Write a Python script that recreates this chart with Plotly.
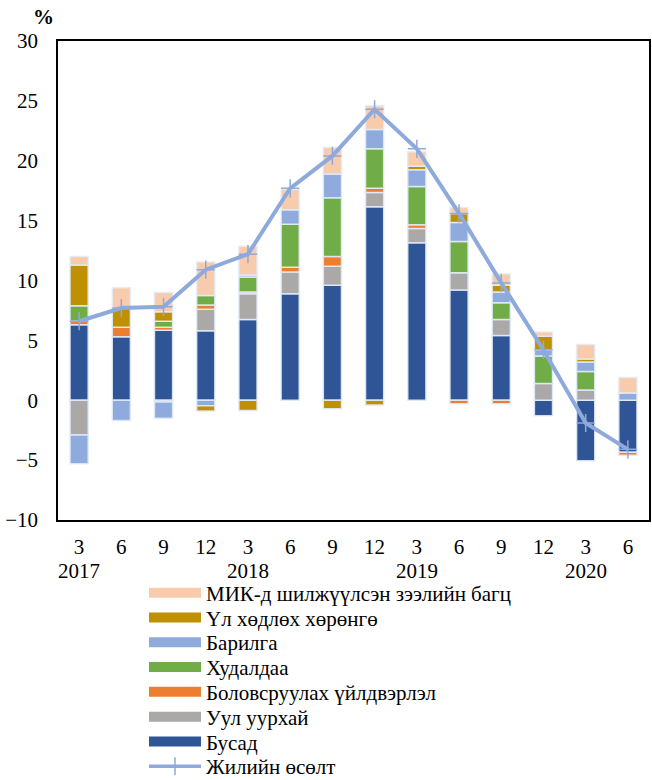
import plotly.graph_objects as go

categories = ["2017-3", "2017-6", "2017-9", "2017-12", "2018-3", "2018-6", "2018-9",
              "2018-12", "2019-3", "2019-6", "2019-9", "2019-12", "2020-3", "2020-6"]
tick_labels = ["3", "6", "9", "12", "3", "6", "9", "12", "3", "6", "9", "12", "3", "6"]
year_labels = ["2017", "2018", "2019", "2020"]
year_positions = ["2017-3", "2018-3", "2019-3", "2020-3"]

busad = [6.3, 5.3, 5.85, 5.8, 6.75, 8.9, 9.6, 16.15, 13.15, 9.2, 5.4, -1.3, -5.05, -4.35]
uul_uurhai = [-2.9, None, -0.15, 1.8, 2.15, 1.8, 1.6, 1.2, 1.2, 1.45, 1.35, 1.4, 0.85, None]
bolovsruulah = [0.3, 0.8, 0.25, 0.35, 0.15, 0.4, 0.8, 0.35, 0.3, -0.3, -0.3, None, None, -0.25]
hudaldaa = [1.3, None, 0.5, 0.8, 1.25, 3.6, 4.9, 3.3, 3.2, 2.6, 1.4, 2.3, 1.55, None]
barilga = [-2.4, -1.7, -1.35, -0.45, 0.15, 1.2, 2.0, 1.6, 1.4, 1.6, 0.9, 0.5, 0.8, 0.6]
ul_hodloh = [3.4, 1.6, 0.8, -0.45, -0.85, None, -0.7, -0.4, 0.3, 0.75, 0.55, 1.15, 0.25, None]
mik = [0.7, 1.7, 1.6, 2.8, 2.4, 1.7, 2.2, 2.0, 1.2, 0.5, 0.95, 0.35, 1.2, 1.3]
growth = [6.6, 7.7, 7.8, 10.9, 12.2, 17.7, 20.4, 24.3, 21.0, 15.6, 9.8, 4.2, -1.9, -4.1]

series = [
    ("Бусад", busad, "#2F5597"),
    ("Уул уурхай", uul_uurhai, "#ABA9A7"),
    ("Боловсруулах үйлдвэрлэл", bolovsruulah, "#ED7D31"),
    ("Худалдаа", hudaldaa, "#70AD47"),
    ("Барилга", barilga, "#8FAADC"),
    ("Үл хөдлөх хөрөнгө", ul_hodloh, "#BF9000"),
    ("МИК-д шилжүүлсэн зээлийн багц", mik, "#F8CBAD"),
]
line_color = "#8EA9DB"
FONT = "Liberation Serif, Times New Roman, Times, serif"
FS = 21
W, H = 652, 780

fig = go.Figure()
for name, vals, color in series:
    fig.add_trace(go.Bar(
        x=categories, y=vals, name=name, showlegend=False,
        marker=dict(color=color, line=dict(color="rgba(225,235,247,0.9)", width=1.5)),
    ))

fig.add_trace(go.Scatter(
    x=categories, y=growth, name="Жилийн өсөлт", showlegend=False,
    mode="lines+markers",
    line=dict(color=line_color, width=4),
    marker=dict(symbol="cross-thin", size=13, color=line_color,
                line=dict(color=line_color, width=1.5)),
))

# legend: one entry per legend box, listed top to bottom
legend_items = [(n, c, "lines") for n, _, c in reversed(series)] + [("Жилийн өсөлт", line_color, "lines+markers")]
row_top, row_step = 593, 24.8
layout_legends = {}
for i, (name, color, mode) in enumerate(legend_items):
    key = "legend" if i == 0 else f"legend{i + 1}"
    fig.add_trace(go.Scatter(
        x=[categories[0]], y=[None], mode=mode, name=name, legend=key,
        line=dict(color=color, width=3.5 if mode != "lines" else 10),
        marker=dict(symbol="cross-thin", size=13, color=color, line=dict(color=color, width=1.5)),
    ))
    layout_legends[key] = dict(
        xref="container", yref="container",
        x=144 / W, y=1 - (row_top + i * row_step) / H,
        xanchor="left", yanchor="middle",
        font=dict(family=FONT, size=FS, color="black"),
        itemwidth=52, bgcolor="rgba(0,0,0,0)",
    )

annotations = [dict(
    text="<b>%</b>", xref="paper", yref="paper", x=-0.025, y=1.05,
    xanchor="center", yanchor="middle", showarrow=False,
    font=dict(family=FONT, size=FS, color="black"),
)]
for pos, lab in zip(year_positions, year_labels):
    annotations.append(dict(
        text=lab, xref="x", yref="paper", x=pos, y=-51 / 479,
        xanchor="center", yanchor="middle", showarrow=False,
        font=dict(family=FONT, size=FS, color="black"),
    ))

fig.update_layout(
    width=W, height=H,
    margin=dict(l=58, r=3, t=41, b=260, autoexpand=False),
    barmode="relative", bargap=0.57,
    plot_bgcolor="white", paper_bgcolor="white",
    font=dict(family=FONT, size=FS, color="black"),
    annotations=annotations,
    **layout_legends,
)
fig.update_xaxes(
    type="category", categoryorder="array", categoryarray=categories,
    range=[-0.5, len(categories) - 0.5],
    tickvals=categories, ticktext=tick_labels,
    showline=True, linecolor="black", linewidth=1.5, mirror=True,
    ticks="", showgrid=False, tickfont=dict(family=FONT, size=FS),
    ticklabelstandoff=7, automargin=False,
)
fig.update_yaxes(
    range=[-10, 30], dtick=5, tick0=0,
    showline=True, linecolor="black", linewidth=1.5, mirror=True,
    ticks="", showgrid=False, zeroline=False, ticklabelstandoff=14,
    tickfont=dict(family=FONT, size=FS), automargin=False,
)

fig.write_html("out.html", post_script="document.body.style.margin='0px';",
               config={"displayModeBar": False})
